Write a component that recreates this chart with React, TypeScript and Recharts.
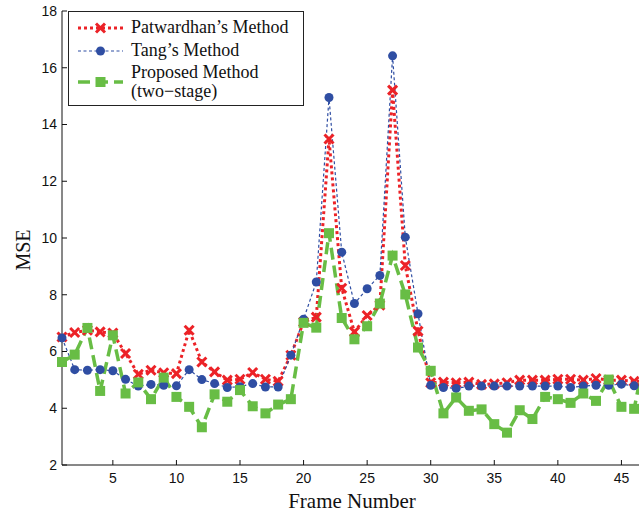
import React from "react";
import { LineChart, Line, XAxis, YAxis, Legend } from "recharts";

// frame 47 sits just past the cropped right edge of the figure
const frames = [
  1, 2, 3, 4, 5, 6, 7, 8, 9, 10, 11, 12, 13, 14, 15, 16, 17, 18, 19, 20, 21, 22, 23, 24,
  25, 26, 27, 28, 29, 30, 31, 32, 33, 34, 35, 36, 37, 38, 39, 40, 41, 42, 43, 44, 45, 46, 47,
];

const patwardhan = [
  6.51, 6.67, 6.75, 6.69, 6.65, 5.93, 5.2, 5.34, 5.25, 5.22, 6.75, 5.63, 5.28, 4.99, 5.02, 5.26,
  5.02, 4.95, 5.87, 7.04, 7.21, 13.49, 8.23, 6.69, 7.27, 7.63, 15.21, 9.03, 6.72, 4.9, 4.92, 4.9,
  4.92, 4.84, 4.86, 4.9, 4.99, 4.99, 4.99, 5.02, 5.02, 4.99, 5.05, 4.99, 4.99, 4.95, 4.95,
];

const tang = [
  6.48, 5.36, 5.34, 5.36, 5.32, 5.02, 4.78, 4.84, 4.81, 4.79, 5.36, 5.01, 4.87, 4.73, 4.76, 4.87,
  4.75, 4.75, 5.87, 7.14, 8.45, 14.95, 9.5, 7.69, 8.21, 8.68, 16.42, 10.03, 7.33, 4.81, 4.73, 4.7,
  4.78, 4.78, 4.78, 4.78, 4.78, 4.78, 4.78, 4.78, 4.73, 4.78, 4.81, 4.81, 4.85, 4.79, 4.8,
];

const proposed = [
  5.63, 5.89, 6.83, 4.61, 6.57, 4.52, 4.91, 4.32, 5.08, 4.4, 4.05, 3.33, 4.49, 4.23, 4.64, 4.07,
  3.82, 4.13, 4.32, 7.01, 6.84, 10.17, 7.18, 6.43, 6.89, 7.69, 9.38, 8.01, 6.14, 5.32, 3.82, 4.38,
  3.91, 3.96, 3.44, 3.14, 3.93, 3.62, 4.4, 4.32, 4.19, 4.52, 4.26, 5.01, 4.05, 3.98, 6.2,
];

const xTicks = [5, 10, 15, 20, 25, 30, 35, 40, 45];
const yTicks = [2, 4, 6, 8, 10, 12, 14, 16, 18];

const RED = "#ec2227";
const BLUE = "#2f4ea3";
const GREEN = "#68bd45";

const data = frames.map((f, i) => ({
  frame: f,
  patwardhan: patwardhan[i],
  tang: tang[i],
  proposed: proposed[i],
}));

function Cross({ cx, cy, color }: any) {
  if (cx == null || cy == null) return null;
  const s = 4.5;
  return (
    <g stroke={color} strokeWidth={3} strokeLinecap="butt">
      <line x1={cx - s} y1={cy - s} x2={cx + s} y2={cy + s} />
      <line x1={cx - s} y1={cy + s} x2={cx + s} y2={cy - s} />
    </g>
  );
}

function Dot({ cx, cy, color }: any) {
  if (cx == null || cy == null) return null;
  return <circle cx={cx} cy={cy} r={4.5} fill={color} stroke="none" />;
}

function Square({ cx, cy, color }: any) {
  if (cx == null || cy == null) return null;
  return <rect x={cx - 5} y={cy - 5} width={10} height={10} fill={color} stroke="none" />;
}

const series = [
  { key: "patwardhan", name: ["Patwardhan\u2019s Method"], color: RED, width: 3, dash: "3 3", Marker: Cross },
  { key: "tang", name: ["Tang\u2019s Method"], color: BLUE, width: 1.2, dash: "3 2.5", Marker: Dot },
  { key: "proposed", name: ["Proposed Method", "(two\u2212stage)"], color: GREEN, width: 3.5, dash: "12 6", Marker: Square },
];

function LegendBox() {
  return (
    <div
      style={{
        width: 236,
        height: 95,
        border: "1px solid #222",
        background: "#fff",
        boxSizing: "border-box",
        paddingTop: 4,
        fontFamily: "'Liberation Serif', 'Times New Roman', serif",
        fontSize: 18,
        color: "#111",
      }}
    >
      {series.map((s) => (
        <div
          key={s.key}
          style={{
            display: "flex",
            alignItems: "center",
            height: s.name.length > 1 ? 40 : 23,
          }}
        >
          <svg width={45} height={20} style={{ marginLeft: 9, marginRight: 8, flex: "none" }}>
            <line x1={0} y1={10} x2={45} y2={10} stroke={s.color} strokeWidth={s.width} strokeDasharray={s.dash} />
            <s.Marker cx={22.5} cy={10} color={s.color} />
          </svg>
          <div style={{ lineHeight: "19px", whiteSpace: "nowrap" }}>
            {s.name.map((n) => (
              <div key={n}>{n}</div>
            ))}
          </div>
        </div>
      ))}
    </div>
  );
}

const tickStyle = { fill: "#111", fontSize: 14, fontFamily: "'Liberation Sans', Arial, sans-serif" };

export default function App() {
  return (
    <div style={{ position: "absolute", left: 0, top: 0, width: 639, height: 512, overflow: "hidden", background: "#fff" }}>
      <LineChart width={685} height={512} data={data} margin={{ top: 11, right: 0, left: 0, bottom: 0 }}>
        <XAxis
          xAxisId="top"
          orientation="top"
          dataKey="frame"
          type="number"
          domain={[1, 50]}
          ticks={xTicks}
          height={0}
          tickSize={-5}
          tickFormatter={() => ""}
          axisLine={{ stroke: "#111" }}
          tickLine={{ stroke: "#111" }}
        />
        <XAxis
          dataKey="frame"
          type="number"
          domain={[1, 50]}
          ticks={xTicks}
          height={47}
          tickSize={-5}
          tickMargin={13}
          tick={tickStyle}
          axisLine={{ stroke: "#111" }}
          tickLine={{ stroke: "#111" }}
          label={{
            content: (p: any) => (
              <text
                x={p.viewBox.x + 290}
                y={p.viewBox.y + 43}
                textAnchor="middle"
                fontFamily="'Liberation Serif', 'Times New Roman', serif"
                fontSize={21}
                fill="#111"
              >
                Frame Number
              </text>
            ),
          }}
        />
        <YAxis
          domain={[2, 18]}
          ticks={yTicks}
          width={62}
          tickSize={-5}
          tickMargin={10}
          tick={tickStyle}
          axisLine={{ stroke: "#111" }}
          tickLine={{ stroke: "#111" }}
          label={{
            content: (p: any) => (
              <text
                x={25}
                y={p.viewBox.y + p.viewBox.height / 2 + 12}
                transform={`rotate(-90 25 ${p.viewBox.y + p.viewBox.height / 2 + 12})`}
                textAnchor="middle"
                dominantBaseline="middle"
                fontFamily="'Liberation Serif', 'Times New Roman', serif"
                fontSize={20}
                fill="#111"
              >
                MSE
              </text>
            ),
          }}
        />
        <Legend
          layout="vertical"
          align="center"
          verticalAlign="middle"
          wrapperStyle={{ left: 68, top: 11, width: 236 }}
          content={() => <LegendBox />}
        />
        {series.map((s) => (
          <Line
            key={s.key}
            dataKey={s.key}
            name={s.name.join(" ")}
            stroke={s.color}
            strokeWidth={s.width}
            strokeDasharray={s.dash}
            type="linear"
            dot={(p: any) => <s.Marker key={`${s.key}-${p.index}`} cx={p.cx} cy={p.cy} color={s.color} />}
            activeDot={false}
            isAnimationActive={false}
          />
        ))}
      </LineChart>
    </div>
  );
}
